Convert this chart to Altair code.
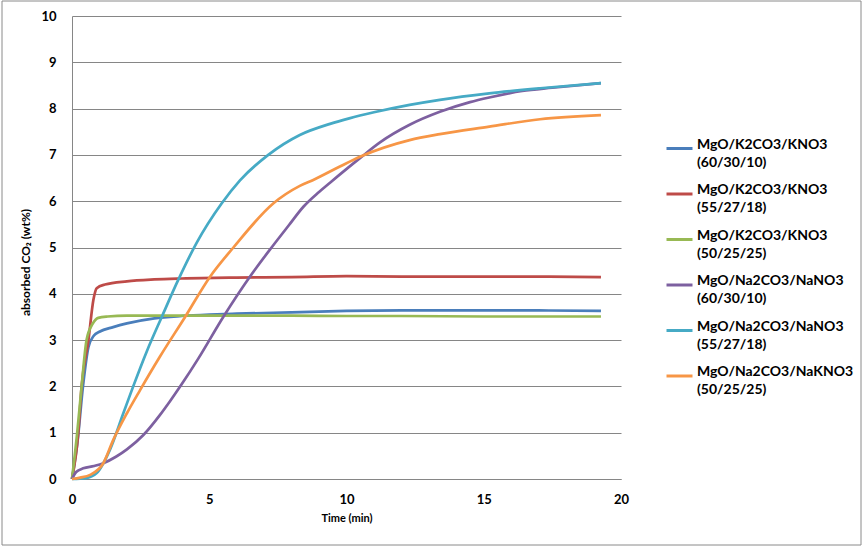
import altair as alt
import pandas as pd

# ---- data ----
series_names = [
    "MgO/K2CO3/KNO3 (60/30/10)",
    "MgO/K2CO3/KNO3 (55/27/18)",
    "MgO/K2CO3/KNO3 (50/25/25)",
    "MgO/Na2CO3/NaNO3 (60/30/10)",
    "MgO/Na2CO3/NaNO3 (55/27/18)",
    "MgO/Na2CO3/NaKNO3 (50/25/25)",
]
colors = ["#4A7EBB", "#BE4B48", "#98B954", "#7D60A0", "#46AAC5", "#F79646"]

t_blue = [0, 0.2, 0.4, 0.6, 0.8, 1.0, 1.5, 2, 3, 4, 5, 6, 8, 10, 12, 15, 17, 19.27]
v_blue = [0, 0.8, 2.0, 2.85, 3.1, 3.18, 3.28, 3.36, 3.47, 3.52, 3.55, 3.57, 3.6, 3.63, 3.64, 3.64, 3.64, 3.63]

t_red = [0, 0.23, 0.35, 0.6, 0.78, 0.9, 1.2, 2, 3, 4, 6, 8, 10, 12, 15, 17, 19.27]
v_red = [0, 1, 2, 3, 3.87, 4.12, 4.2, 4.27, 4.31, 4.33, 4.35, 4.36, 4.38, 4.37, 4.37, 4.37, 4.36]

t_green = [0, 0.19, 0.35, 0.53, 0.75, 0.96, 1.3, 2, 3, 5, 8, 10, 12, 15, 17, 19.27]
v_green = [0, 1, 2, 3, 3.35, 3.48, 3.51, 3.53, 3.53, 3.53, 3.53, 3.52, 3.52, 3.51, 3.51, 3.51]

t_purple = [0, 0.15, 0.41, 0.8, 1.14, 1.6, 2.0, 2.6, 3.2, 3.57, 4.0, 4.6, 5.51, 6.48, 7.27, 7.9,
            8.43, 9.0, 9.4, 10.49, 11.22, 12.3, 13.4, 14.5, 15.2, 16.4, 17.5, 19.27]
v_purple = [0, 0.15, 0.23, 0.28, 0.34, 0.48, 0.64, 0.95, 1.38, 1.68, 2.05, 2.6, 3.5, 4.37, 5.0, 5.48,
            5.88, 6.2, 6.4, 6.93, 7.27, 7.65, 7.93, 8.14, 8.24, 8.38, 8.45, 8.55]

t_teal = [0, 0.5, 0.9, 1.38, 1.87, 2.23, 2.72, 3.27, 3.87, 4.54, 5.45, 6.12, 7.15, 8.3, 9.4,
          10.1, 11, 12.3, 13.4, 15.2, 17.05, 19.27]
v_teal = [0, 0.02, 0.13, 0.63, 1.42, 2.0, 2.75, 3.5, 4.3, 5.1, 5.95, 6.45, 7.0, 7.43, 7.67,
          7.79, 7.92, 8.08, 8.19, 8.33, 8.44, 8.55]

t_orange = [0, 0.3, 0.66, 1.14, 1.5, 2.0, 2.48, 3.2, 4.12, 5.03, 5.88, 7.33, 8.3, 8.79, 9.76,
            10.49, 12.3, 13.4, 15.2, 17.05, 19.27]
v_orange = [0, 0.03, 0.09, 0.34, 0.84, 1.42, 1.92, 2.64, 3.5, 4.37, 5.0, 5.95, 6.33, 6.46, 6.75,
            6.96, 7.32, 7.45, 7.61, 7.77, 7.86]

x_ticks = [0, 5, 10, 15, 20]
y_ticks = [0, 1, 2, 3, 4, 5, 6, 7, 8, 9, 10]

all_t = [t_blue, t_red, t_green, t_purple, t_teal, t_orange]
all_v = [v_blue, v_red, v_green, v_purple, v_teal, v_orange]

rows = []
for name, ts, vs in zip(series_names, all_t, all_v):
    for i, (t, v) in enumerate(zip(ts, vs)):
        rows.append({"series": name, "time": t, "value": v, "idx": i})
df = pd.DataFrame(rows)

FONT = "Lato"
GRID = "#868686"

lines = alt.Chart(df).mark_line(strokeWidth=2.7, interpolate="monotone").encode(
    x=alt.X("time:Q",
            scale=alt.Scale(domain=[0, 20], nice=False),
            axis=alt.Axis(values=x_ticks, title="Time (min)", grid=False, ticks=False,
                          labelFlush=False,
                          domainColor=GRID, labelFont=FONT, labelFontSize=13,
                          labelFontWeight="bold", labelColor="#000", labelPadding=14,
                          titleFont=FONT, titleFontSize=11, titleFontWeight="bold",
                          titleColor="#000", titlePadding=6)),
    y=alt.Y("value:Q",
            scale=alt.Scale(domain=[0, 10], nice=False),
            axis=alt.Axis(values=y_ticks, title="absorbed CO₂ (wt%)", grid=True,
                          labelFlush=False,
                          gridColor=GRID, gridWidth=1, ticks=False, domainColor=GRID,
                          labelFont=FONT, labelFontSize=13, labelFontWeight="bold",
                          labelColor="#000", labelPadding=16,
                          titleFont=FONT, titleFontSize=12, titleFontWeight="bold",
                          titleColor="#000", titleX=-47, titleY=246,
                          titleAngle=270, titleAlign="center", titleBaseline="middle")),
    color=alt.Color("series:N",
                    scale=alt.Scale(domain=series_names, range=colors),
                    legend=alt.Legend(title=None, orient="none", legendX=593, legendY=118,
                                      symbolType="stroke", symbolSize=676,
                                      symbolStrokeWidth=3, labelFont=FONT,
                                      labelFontSize=14, labelFontWeight="bold",
                                      labelColor="#000", labelBaseline="alphabetic",
                                      labelOffset=3, rowPadding=9.5, labelLimit=300,
                                      labelExpr="[split(datum.label, ' ')[0], split(datum.label, ' ')[1]]")),
    order="idx:Q",
)

border = alt.Chart(pd.DataFrame({"a": [0]})).mark_rect(
    fill="transparent", stroke="#8a8a8a", strokeWidth=1
).encode(x=alt.value(-70), x2=alt.value(789), y=alt.value(-15), y2=alt.value(529))

chart = alt.layer(lines, border).properties(
    width=549, height=463,
    padding={"left": 72, "top": 16, "right": 245, "bottom": 68},
    autosize=alt.AutoSizeParams(type="none"),
    background="white",
).configure(style={"guide-label": {"lineHeight": 18}}).configure_view(stroke="transparent")

chart.save("out.html", embed_options={"renderer": "svg", "actions": False})
